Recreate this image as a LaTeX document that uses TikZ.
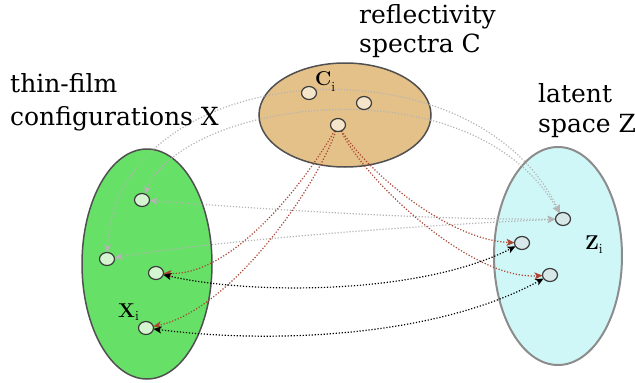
\documentclass[tikz,border=0pt]{standalone}
\usepackage{fontspec}
\newfontfamily\labelfont{DejaVu Serif}
\usetikzlibrary{shapes.geometric,arrows.meta}
\definecolor{greenfill}{HTML}{66E066}
\definecolor{orangefill}{HTML}{E5C18A}
\definecolor{cyanfill}{HTML}{D0F7F7}
\definecolor{xpt}{HTML}{D4F5CF}
\definecolor{cpt}{HTML}{F5E6CB}
\definecolor{zpt}{HTML}{D8E8E8}
\definecolor{ptline}{HTML}{3C3C3C}
\definecolor{grayline}{HTML}{B4B4B4}
\definecolor{redline}{HTML}{AA4632}
\pgfdeclarelayer{bg}
\pgfdeclarelayer{lines}
\pgfsetlayers{bg,lines,main}
\newcommand{\ptlabel}[3]{{\fontsize{20}{24}\selectfont\bfseries #1}\raisebox{-#3}{\fontsize{14}{16}\selectfont #2}}
\begin{document}
\begin{tikzpicture}[x=1pt,y=-1pt,
  bigell/.style={ellipse, draw=#1, line width=1.5pt, inner sep=0pt, outer sep=0pt},
  pt/.style={ellipse, draw=ptline, line width=1.2pt, fill=#1, minimum width=15pt, minimum height=13pt, inner sep=0pt, outer sep=0pt},
  lbl/.style={anchor=base west, inner sep=0pt, font=\labelfont\fontsize{25}{33}\selectfont},
  sub/.style={anchor=base west, inner sep=0pt},
  dotline/.style={line width=1.2pt, dash pattern=on 1.2pt off 1.8pt},
  graylink/.style={dotline, draw=grayline, {Stealth[length=8pt,width=7pt,inset=2pt]}-{Stealth[length=8pt,width=7pt,inset=2pt]}},
  redlink/.style={dotline, draw=redline, -{Stealth[length=8pt,width=7pt,inset=2pt]}},
  blacklink/.style={dotline, draw=black, {Stealth[length=8pt,width=7pt,inset=2pt]}-{Stealth[length=8pt,width=7pt,inset=2pt]}}
]
\useasboundingbox (0,0) rectangle (635,383);

\begin{pgfonlayer}{bg}
  \node[bigell=ptline!90, fill=greenfill, minimum width=130pt, minimum height=230pt] (X) at (147,264) {};
  \node[bigell=ptline!90, fill=orangefill, minimum width=172pt, minimum height=104pt] (C) at (345,115) {};
  \node[bigell=gray!90, line width=2pt, fill=cyanfill, minimum width=128pt, minimum height=218pt] (Z) at (558,256) {};
\end{pgfonlayer}

% points
\node[pt=xpt] (a1) at (142,200) {};
\node[pt=xpt] (a2) at (107,259) {};
\node[pt=xpt] (a3) at (156,273) {};
\node[pt=xpt] (a4) at (146,328) {};
\node[pt=cpt] (c1) at (309,93) {};
\node[pt=cpt] (c2) at (364,103) {};
\node[pt=cpt] (c3) at (338,125) {};
\node[pt=zpt] (z1) at (563,219) {};
\node[pt=zpt] (z2) at (522,243) {};
\node[pt=zpt] (z3) at (550,275) {};

% labels
\node[lbl] (t1) at (10,92) {thin-film};
\node[lbl] (t2) at (10,125) {configurations X};
\node[lbl] (t3) at (359,23) {reflectivity};
\node[lbl] (t4) at (359,52) {spectra C};
\node[lbl] (t5) at (538,102) {latent};
\node[lbl] (t6) at (538,132) {space Z};
\node[sub] (ci) at (315,85) {\ptlabel{C}{i}{6pt}};
\node[sub] (xi) at (118,317) {\ptlabel{X}{i}{3pt}};
\node[sub] (zi) at (585,249) {\ptlabel{Z}{i}{4pt}};

\begin{pgfonlayer}{lines}
  % gray links
  \draw[graylink] (a2) .. controls (115,60) and (470,30) .. (z1);
  \draw[graylink] (a1) .. controls (185,100) and (470,60) .. (z1);
  \draw[graylink] (a1) .. controls (250,208) and (420,220) .. (z1);
  \draw[graylink] (a2) .. controls (220,240) and (420,225) .. (z1);
  % red links
  \draw[redlink] (c3) .. controls (300,190) and (230,276) .. (a3);
  \draw[redlink] (c3) .. controls (315,190) and (230,310) .. (a4);
  \draw[redlink] (c3) .. controls (370,175) and (450,240) .. (z2);
  \draw[redlink] (c3) .. controls (365,180) and (470,280) .. (z3);
  % black links
  \draw[blacklink] (a3) .. controls (250,295) and (420,295) .. (z2);
  \draw[blacklink] (a4) .. controls (280,345) and (440,335) .. (z3);
\end{pgfonlayer}
\end{tikzpicture}
\end{document}
